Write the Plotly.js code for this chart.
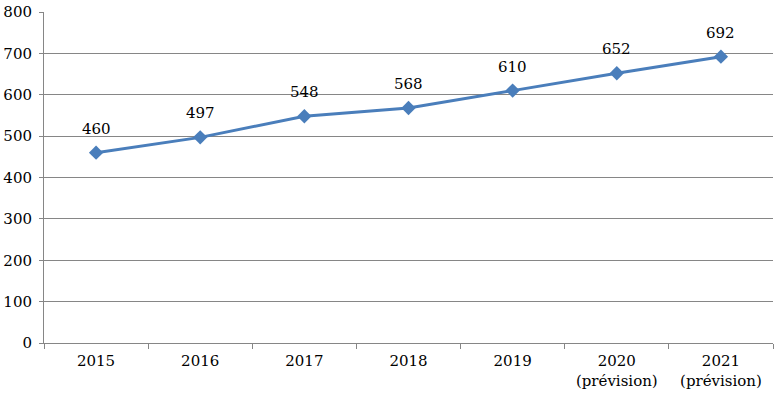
<!DOCTYPE html>
<html>
<head>
<meta charset="utf-8">
<script src="https://cdn.plot.ly/plotly-3.0.1.min.js"></script>
<style>html,body{margin:0;padding:0;background:#fff;}#chart{width:780px;height:398px;}</style>
</head>
<body>
<div id="chart"></div>
<script>
const categories = ["2015", "2016", "2017", "2018", "2019", "2020<br>(prévision)", "2021<br>(prévision)"];
const values = [460, 497, 548, 568, 610, 652, 692];
const yTicks = [0, 100, 200, 300, 400, 500, 600, 700, 800];

const fontFam = "DejaVu Serif";
const trace = {
  x: categories,
  y: values,
  type: 'scatter',
  mode: 'lines+markers',
  line: {color: '#4A7EBB', width: 3},
  marker: {symbol: 'diamond', size: 11, color: '#4A7EBB'},
  hoverinfo: 'none'
};
const annotations = categories.map((c, i) => ({
  x: i, y: values[i], xref: 'x', yref: 'y', text: String(values[i]), showarrow: false,
  yshift: 24, font: {family: fontFam, size: 15, color: '#000'}
}));
const layout = {
  width: 780, height: 398,
  margin: {l: 44, r: 7, t: 12, b: 55},
  paper_bgcolor: '#fff', plot_bgcolor: '#fff',
  showlegend: false,
  font: {family: fontFam, size: 14, color: '#000'},
  xaxis: {
    type: 'category', range: [-0.5, 6.5], tickson: 'boundaries',
    ticks: 'outside', ticklen: 5, tickcolor: '#868686', tickwidth: 1,
    showline: true, linecolor: '#868686', linewidth: 1,
    showgrid: false, zeroline: false, ticklabelstandoff: 4,
    tickfont: {family: fontFam, size: 15, color: '#000'}, fixedrange: true
  },
  yaxis: {
    range: [0, 800], tickvals: yTicks, ticktext: yTicks.map(String),
    ticks: 'outside', ticklen: 4, tickcolor: '#868686',
    showline: true, linecolor: '#868686', linewidth: 1,
    showgrid: true, gridcolor: '#868686', gridwidth: 1, zeroline: false,
    ticklabelstandoff: 4,
    tickfont: {family: fontFam, size: 15, color: '#000'}, fixedrange: true
  },
  annotations: annotations
};
Plotly.newPlot('chart', [trace], layout, {displayModeBar: false, staticPlot: true});
</script>
</body>
</html>
